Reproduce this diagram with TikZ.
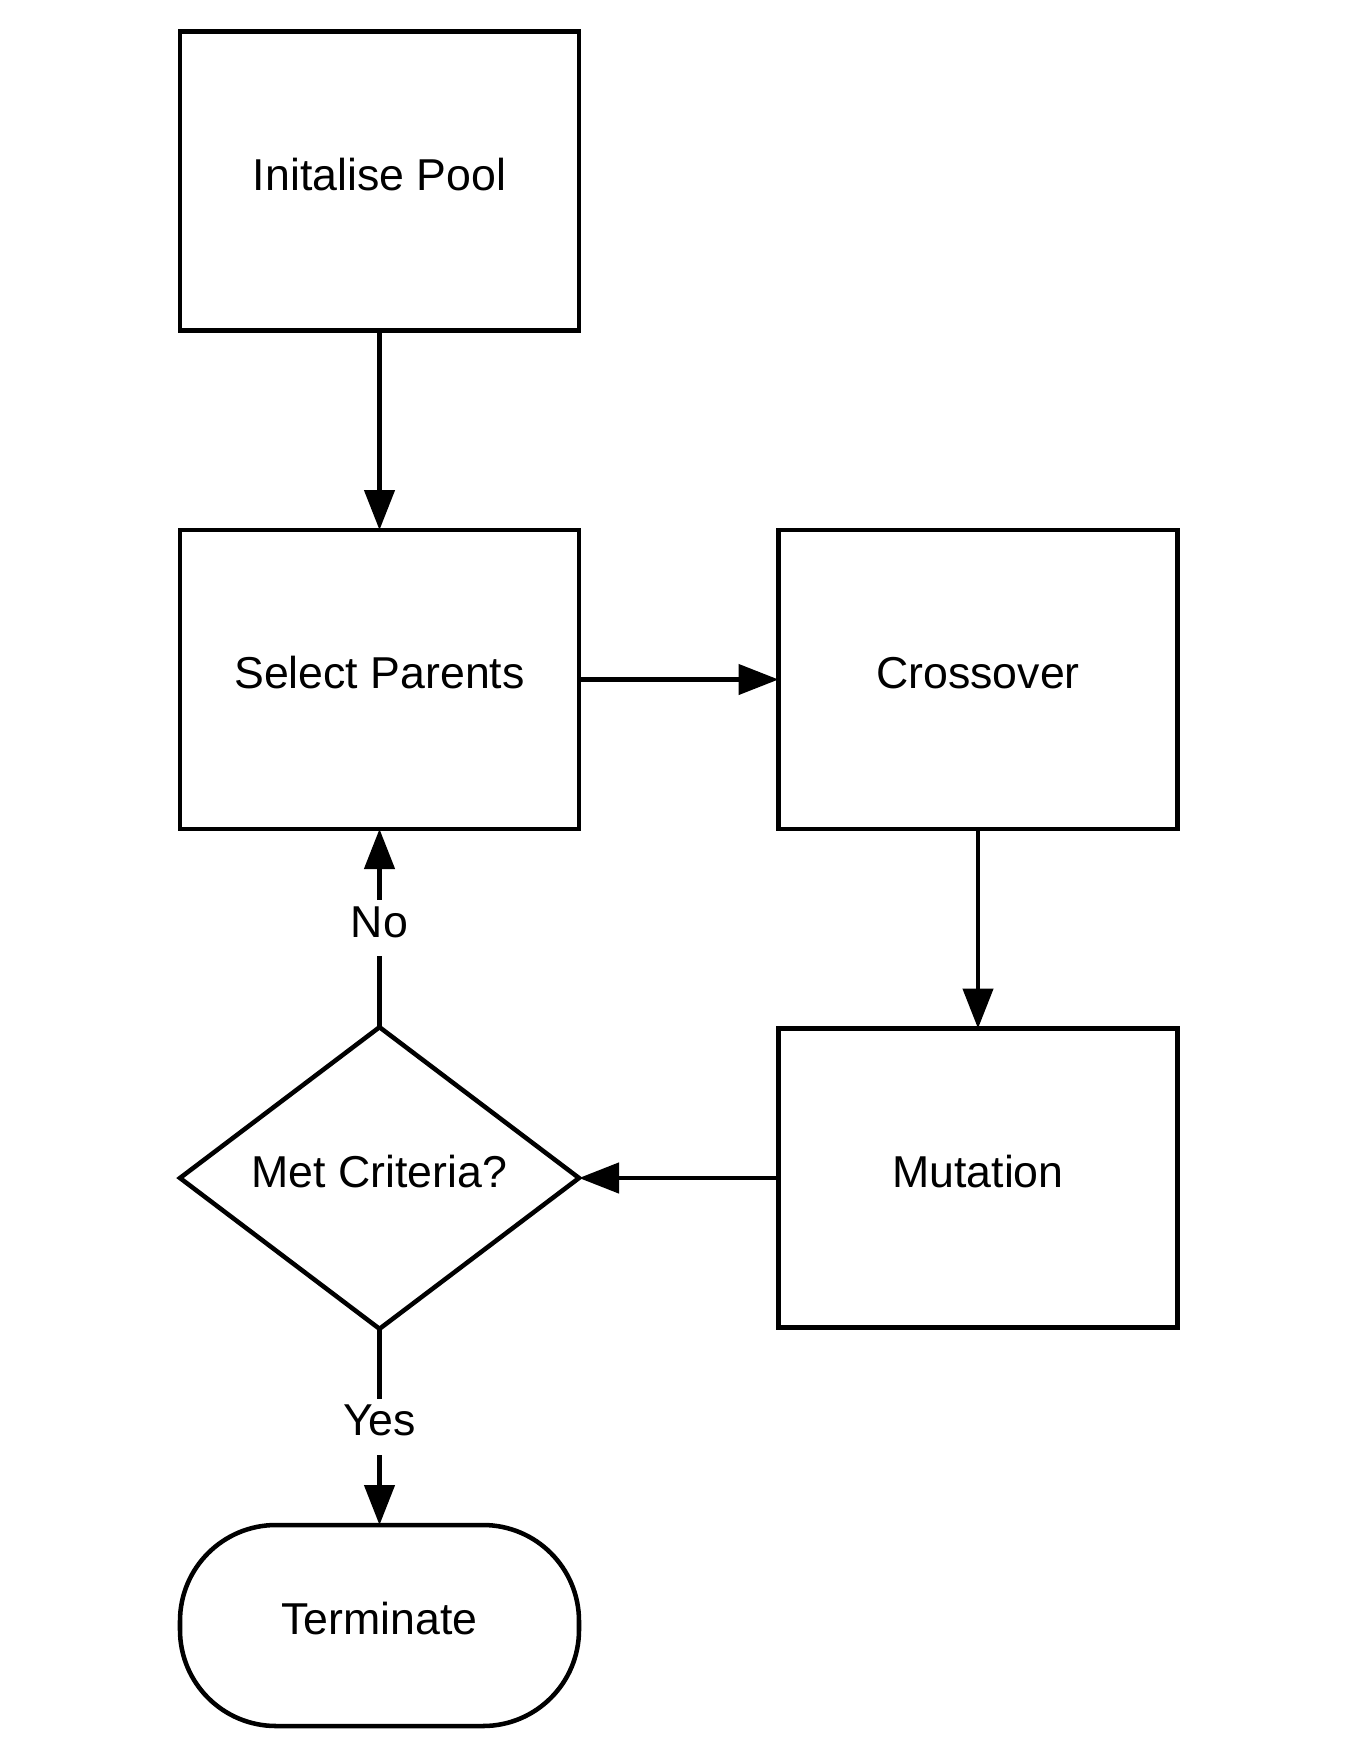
\documentclass[tikz,border=0pt]{standalone}
\usepackage{fontspec}
\setmainfont{Liberation Sans}
\usetikzlibrary{shapes.geometric,arrows.meta}

\tikzset{
  flowbox/.style={draw, line width=3.4pt, minimum width=299.25pt, minimum height=224.25pt, inner sep=0pt, outer sep=0pt, text height=24pt, text depth=10.5pt},
  decision/.style={draw, diamond, line width=3.4pt, minimum width=299.25pt, minimum height=225pt, inner sep=0pt, outer sep=0pt, text height=24pt, text depth=10.5pt},
  terminal/.style={draw, rounded corners=72pt, line width=3.4pt, minimum width=299.25pt, minimum height=150.75pt, inner sep=0pt, outer sep=0pt, text height=24pt, text depth=10.5pt},
  flowline/.style={line width=3.4pt, -{Triangle[length=30pt, width=22.5pt]}},
  answer/.style={fill=white, inner sep=4pt, text height=24pt, text depth=10.5pt}
}

\begin{document}
\begin{tikzpicture}[x=0.75pt,y=0.75pt,yscale=-1,xscale=1, font=\fontsize{33.5}{40}\selectfont]
	%set diagram size to the page
	\path[use as bounding box] (0,0) rectangle (1363,1763);

	% Boxes
	\node[flowbox] (init) at (379.5,181) {Initalise Pool};
	\node[flowbox] (select) at (379.5,679.5) {Select Parents};
	\node[flowbox] (cross) at (978,679.5) {Crossover};
	\node[flowbox] (mutate) at (978,1178) {Mutation};
	% Decision
	\node[decision] (crit) at (379.5,1178) {Met Criteria?};
	% Terminal
	\node[terminal] (stop) at (379.5,1625.5) {Terminate};

	% Connectors
	\draw[flowline] (init) -- (select);
	\draw[flowline] (select) -- (cross);
	\draw[flowline] (cross) -- (mutate);
	\draw[flowline] (mutate) -- (crit.east);
	\draw[flowline] (crit.north) -- node[answer] (no) {No} (select);
	\draw[flowline] (crit.south) -- node[answer] (yes) {Yes} (stop);

\end{tikzpicture}
\end{document}
